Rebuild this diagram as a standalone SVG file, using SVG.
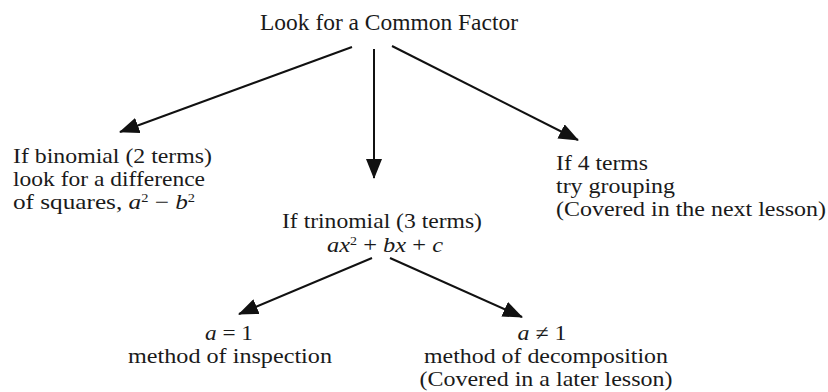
<svg xmlns="http://www.w3.org/2000/svg" width="828" height="392" viewBox="0 0 828 392">
<style>
text{font-family:"Liberation Serif","Times New Roman",serif;font-size:21px;fill:#1a1a1a}
.t{font-size:23.5px}
.c{text-anchor:middle}
.i{font-style:italic}
.sup{font-size:12px}
.edge{stroke:#111;stroke-width:2;fill:none;marker-end:url(#ah)}
</style>
<defs>
<marker id="ah" markerUnits="userSpaceOnUse" markerWidth="20" markerHeight="16" refX="19" refY="8" orient="auto">
<path d="M0,0 L20,8 L0,16 z" fill="#111"/>
</marker>
</defs>
<rect width="828" height="392" fill="#fff"/>
<g id="connectors">
<line class="edge" x1="352" y1="47" x2="120" y2="132"/>
<line class="edge" x1="374" y1="49" x2="374" y2="178"/>
<line class="edge" x1="392" y1="46" x2="578" y2="140"/>
<line class="edge" x1="372" y1="258" x2="239" y2="314"/>
<line class="edge" x1="390" y1="258" x2="522" y2="317"/>
</g>
<g id="root">
<text class="c t" x="389" y="30" textLength="258" lengthAdjust="spacingAndGlyphs">Look for a Common Factor</text>
</g>
<g id="binomial">
<text x="13" y="163" textLength="199" lengthAdjust="spacingAndGlyphs">If binomial (2 terms)</text>
<text x="13" y="185.5" textLength="192" lengthAdjust="spacingAndGlyphs">look for a difference</text>
<text x="13" y="209" textLength="182" lengthAdjust="spacingAndGlyphs">of squares, <tspan class="i">a</tspan><tspan class="sup" dy="-7">2</tspan><tspan dy="7"> − </tspan><tspan class="i">b</tspan><tspan class="sup" dy="-7">2</tspan></text>
</g>
<g id="trinomial">
<text class="c" x="382" y="228" textLength="200" lengthAdjust="spacingAndGlyphs">If trinomial (3 terms)</text>
<text class="c" x="385" y="252" textLength="116" lengthAdjust="spacingAndGlyphs"><tspan class="i">ax</tspan><tspan class="sup" dy="-7">2</tspan><tspan dy="7"> + </tspan><tspan class="i">bx</tspan> + <tspan class="i">c</tspan></text>
</g>
<g id="four-terms">
<text x="556" y="170" textLength="92" lengthAdjust="spacingAndGlyphs">If 4 terms</text>
<text x="556" y="193" textLength="119" lengthAdjust="spacingAndGlyphs">try grouping</text>
<text x="556" y="216" textLength="270" lengthAdjust="spacingAndGlyphs">(Covered in the next lesson)</text>
</g>
<g id="a-equals-1">
<text class="c" x="229" y="340" textLength="48" lengthAdjust="spacingAndGlyphs"><tspan class="i">a</tspan> = 1</text>
<text class="c" x="230" y="363" textLength="204" lengthAdjust="spacingAndGlyphs">method of inspection</text>
</g>
<g id="a-not-1">
<text class="c" x="542" y="340" textLength="49" lengthAdjust="spacingAndGlyphs"><tspan class="i">a</tspan> ≠ 1</text>
<text class="c" x="546" y="363" textLength="244" lengthAdjust="spacingAndGlyphs">method of decomposition</text>
<text class="c" x="546" y="386" textLength="253" lengthAdjust="spacingAndGlyphs">(Covered in a later lesson)</text>
</g>
</svg>
